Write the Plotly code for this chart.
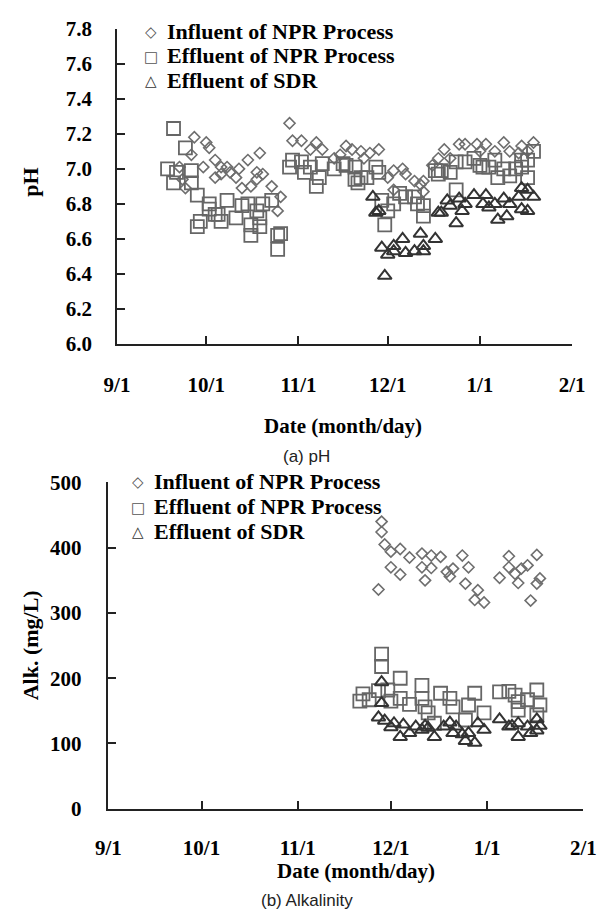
import plotly.graph_objects as go

# ---------------- data ----------------
# (a) pH
ph_inf_date = ["9/22","9/23","9/24","9/26","9/27","9/30","10/1","10/2","10/4","10/4","10/6","10/6",
               "10/8","10/9","10/11","10/12","10/13","10/15","10/16","10/18","10/18","10/19","10/20",
               "10/23","10/25","10/26","10/29","10/30","11/2","11/5","11/7","11/9","11/13","11/15",
               "11/17","11/19","11/22","11/23","11/25","11/28","12/1","12/3","12/3","12/6","12/7",
               "12/10","12/12","12/13","12/13","12/16","12/18","12/20","12/22","12/25","12/27",
               "12/31","1/1","1/3","1/6","1/9","1/11","1/14","1/15","1/17","1/19"]
ph_inf = [7.01,6.94,6.89,7.08,7.18,7.01,7.15,7.12,7.05,6.95,7.01,6.97,
          7.01,6.98,6.95,7.00,6.89,7.05,6.90,6.98,6.94,7.09,6.97,
          6.90,6.76,6.84,7.26,7.16,7.16,7.11,7.15,7.11,7.06,7.08,
          7.13,7.11,7.10,7.06,7.09,7.11,6.95,6.99,6.88,7.00,6.97,
          6.93,6.91,6.87,6.93,7.02,7.06,7.11,7.06,7.14,7.14,
          7.14,7.10,7.14,7.10,7.15,7.10,7.09,7.13,7.10,7.15]

ph_eff_date = ["9/18","9/20","9/20","9/21","9/24","9/26","9/26","9/28","9/28","9/29","10/2","10/2",
               "10/4","10/5","10/6","10/8","10/11","10/13","10/15","10/16","10/16","10/18","10/19",
               "10/19","10/20","10/23","10/25","10/25","10/26","10/29","10/30","11/2","11/3","11/5",
               "11/7","11/8","11/9","11/13","11/16","11/17","11/20","11/20","11/21","11/22","11/24",
               "11/27","11/28","11/29","11/30","12/1","12/3","12/5","12/7","12/10","12/11","12/13",
               "12/13","12/17","12/18","12/19","12/22","12/24","12/24","12/27","12/30","1/1","1/2",
               "1/4","1/6","1/7","1/9","1/11","1/13","1/15","1/15","1/17","1/17","1/19"]
ph_eff = [7.00,7.23,6.92,6.98,7.12,6.99,6.92,6.85,6.67,6.70,6.80,6.77,
          6.74,6.74,6.70,6.82,6.72,6.79,6.80,6.68,6.62,6.76,6.67,
          6.72,6.80,6.82,6.62,6.54,6.63,7.01,7.05,7.04,6.98,7.01,
          6.90,6.95,7.03,7.00,7.03,7.02,7.01,6.94,6.92,6.95,6.95,
          7.01,6.98,6.82,6.68,6.76,6.80,6.86,6.84,6.84,6.80,6.73,
          6.79,6.99,6.97,6.99,6.98,6.88,7.04,7.04,7.06,7.02,7.01,
          7.01,7.05,6.95,7.00,6.96,7.00,7.05,7.01,6.95,7.05,7.10]

ph_sdr_date = ["11/26","11/27","11/28","11/29","11/30","12/1","12/3","12/3","12/6","12/7","12/10",
               "12/12","12/13","12/13","12/17","12/18","12/19","12/21","12/22","12/24","12/25",
               "12/26","12/27","12/30","1/2","1/3","1/4","1/6","1/7","1/9","1/10","1/11","1/14",
               "1/15","1/15","1/17","1/17","1/19"]
ph_sdr = [6.84,6.75,6.76,6.55,6.39,6.51,6.53,6.56,6.60,6.52,6.53,
          6.63,6.53,6.56,6.60,6.75,6.75,6.82,6.79,6.69,6.83,
          6.76,6.80,6.85,6.80,6.85,6.78,6.80,6.71,6.83,6.73,6.80,6.84,
          6.77,6.89,6.76,6.88,6.84]

# (b) Alkalinity (mg/L)
alk_inf_date = ["11/27","11/28","11/28","11/29","12/1","12/1","12/4","12/4","12/7","12/11","12/11",
                "12/12","12/14","12/14","12/17","12/19","12/20","12/21","12/24","12/25","12/26",
                "12/28","12/29","12/31","1/5","1/8","1/8","1/10","1/11","1/12","1/14","1/15",
                "1/17","1/17","1/18"]
alk_inf = [336,424,440,405,394,370,398,359,385,391,370,
           350,388,369,386,363,356,368,388,345,370,
           320,335,316,354,387,370,360,346,368,373,319,
           389,345,353]

alk_eff_date = ["11/21","11/22","11/24","11/27","11/28","11/28","11/30","12/1","12/4","12/4","12/7",
                "12/11","12/11","12/12","12/13","12/15","12/17","12/20","12/21","12/25","12/26",
                "12/28","12/31","1/5","1/8","1/10","1/11","1/11","1/14","1/17","1/17","1/18"]
alk_eff = [165,176,167,181,218,237,182,165,169,200,160,
           189,169,156,147,131,177,169,156,136,159,
           177,147,179,180,174,151,164,167,182,144,159]

alk_sdr_date = ["11/27","11/28","11/28","11/29","12/1","12/2","12/4","12/5","12/7","12/9","12/11",
                "12/12","12/13","12/15","12/18","12/20","12/21","12/22","12/24","12/25","12/26",
                "12/28","12/29","12/31","1/5","1/8","1/9","1/11","1/11","1/14","1/15","1/17",
                "1/17","1/18"]
alk_sdr = [140,162,194,135,125,131,110,129,116,126,121,
           127,124,110,126,132,116,126,114,104,116,
           101,131,121,137,126,127,131,110,126,116,137,
           120,127]

tick_dates = ["9/1", "10/1", "11/1", "12/1", "1/1", "2/1"]
series_names = ["Influent of NPR Process", "Effluent of NPR Process", "Effluent of SDR"]
ph_ticks = [6.0, 6.2, 6.4, 6.6, 6.8, 7.0, 7.2, 7.4, 7.6, 7.8]
alk_ticks = [0, 100, 200, 300, 400, 500]


def to_iso(md):
    m, d = (int(v) for v in md.split("/"))
    year = 2006 if m >= 9 else 2007
    return f"{year}-{m:02d}-{d:02d}"


def iso_list(lst):
    return [to_iso(s) for s in lst]


# ---------------- figure ----------------
W, H = 612, 924
SERIF = "Liberation Serif, Times New Roman, serif"
SANS = "Liberation Sans, Arial, sans-serif"

styles = [
    dict(symbol="diamond-open", size=8.5, color="#6e6e6e", line=dict(width=1.6, color="#6e6e6e")),
    dict(symbol="square-open", size=13, color="#666666", line=dict(width=1.8, color="#666666")),
    dict(symbol="triangle-up-open", size=12, color="#333333", line=dict(width=2.0, color="#333333")),
]

fig = go.Figure()
top = [(ph_inf_date, ph_inf), (ph_eff_date, ph_eff), (ph_sdr_date, ph_sdr)]
bot = [(alk_inf_date, alk_inf), (alk_eff_date, alk_eff), (alk_sdr_date, alk_sdr)]
for (d, v), st, nm in zip(top, styles, series_names):
    fig.add_trace(go.Scatter(x=iso_list(d), y=v, mode="markers", name=nm, marker=st,
                             xaxis="x", yaxis="y", showlegend=False, cliponaxis=False))
for (d, v), st, nm in zip(bot, styles, series_names):
    fig.add_trace(go.Scatter(x=iso_list(d), y=v, mode="markers", name=nm, marker=st,
                             xaxis="x2", yaxis="y2", showlegend=False, cliponaxis=False))


def px_x(p):
    return p / W


def px_y(p):
    return (H - p) / H


axis_common = dict(showline=True, linecolor="#222222", linewidth=1.5, ticks="inside",
                   ticklen=8, tickwidth=1.5, tickcolor="#222222", showgrid=False,
                   zeroline=False,
                   tickfont=dict(family=SERIF, size=21, color="black", weight="bold"))
date_range = [to_iso("9/1"), to_iso("2/1")]
tickv = iso_list(tick_dates)

fig.update_layout(
    width=W, height=H, margin=dict(l=0, r=0, t=0, b=0),
    paper_bgcolor="white", plot_bgcolor="white", showlegend=False,
    xaxis=dict(domain=[px_x(108.6), px_x(584)], range=date_range, type="date",
               tickmode="array", tickvals=tickv, ticktext=tick_dates,
               anchor="y", ticklabelstandoff=21, **axis_common),
    yaxis=dict(domain=[px_y(341), px_y(17)], range=[6.0, 7.8], tickmode="array",
               tickvals=ph_ticks, ticktext=[f"{t:.1f}" for t in ph_ticks],
               anchor="x", ticklabelstandoff=19, **axis_common),
    xaxis2=dict(domain=[px_x(99.6), px_x(595.7)], range=date_range, type="date",
                tickmode="array", tickvals=tickv, ticktext=tick_dates,
                anchor="y2", ticklabelstandoff=19, **axis_common),
    yaxis2=dict(domain=[px_y(818), px_y(483)], range=[0, 500], tickmode="array",
                tickvals=alk_ticks, ticktext=[str(t) for t in alk_ticks],
                anchor="x2", ticklabelstandoff=21, **axis_common),
)

ann = []


def add_text(text, x, y, size=22, family=SERIF, angle=0, xanchor="center", color="black"):
    ann.append(dict(text=text, x=px_x(x), y=px_y(y), xref="paper", yref="paper",
                    showarrow=False, xanchor=xanchor, yanchor="middle", textangle=angle,
                    font=dict(family=family, size=size, color=color)))


# axis titles & captions
add_text("<b>pH</b>", 18, 175, angle=-90)
add_text("<b>Date (month/day)</b>", 345, 425, size=21)
add_text("(a) pH", 307, 456, size=17, family=SANS, color="#222222")
add_text("<b>Alk. (mg/L)</b>", 18, 650, angle=-90)
add_text("<b>Date (month/day)</b>", 358, 882, size=21)
add_text("(b) Alkalinity", 307, 912, size=17, family=SANS, color="#222222")

# legends (symbol glyphs + labels)
glyphs = ["\u25C7", "\u25A1", "\u25B3"]
glyph_colors = ["#555555", "#555555", "#333333"]
for (sx, tx, ys) in [(144.5, 159, [20, 45, 70]), (131, 145, [482, 508, 533])]:
    for g, gc, nm, yy in zip(glyphs, glyph_colors, series_names, ys):
        add_text(g, sx, yy + 1, size=15, family="DejaVu Sans", color=gc)
        add_text(f"<b>{nm}</b>", tx, yy, xanchor="left")

fig.update_layout(annotations=ann)
fig.write_html("out.html", config={"displayModeBar": False},
               post_script="document.body.style.margin='0px';")
